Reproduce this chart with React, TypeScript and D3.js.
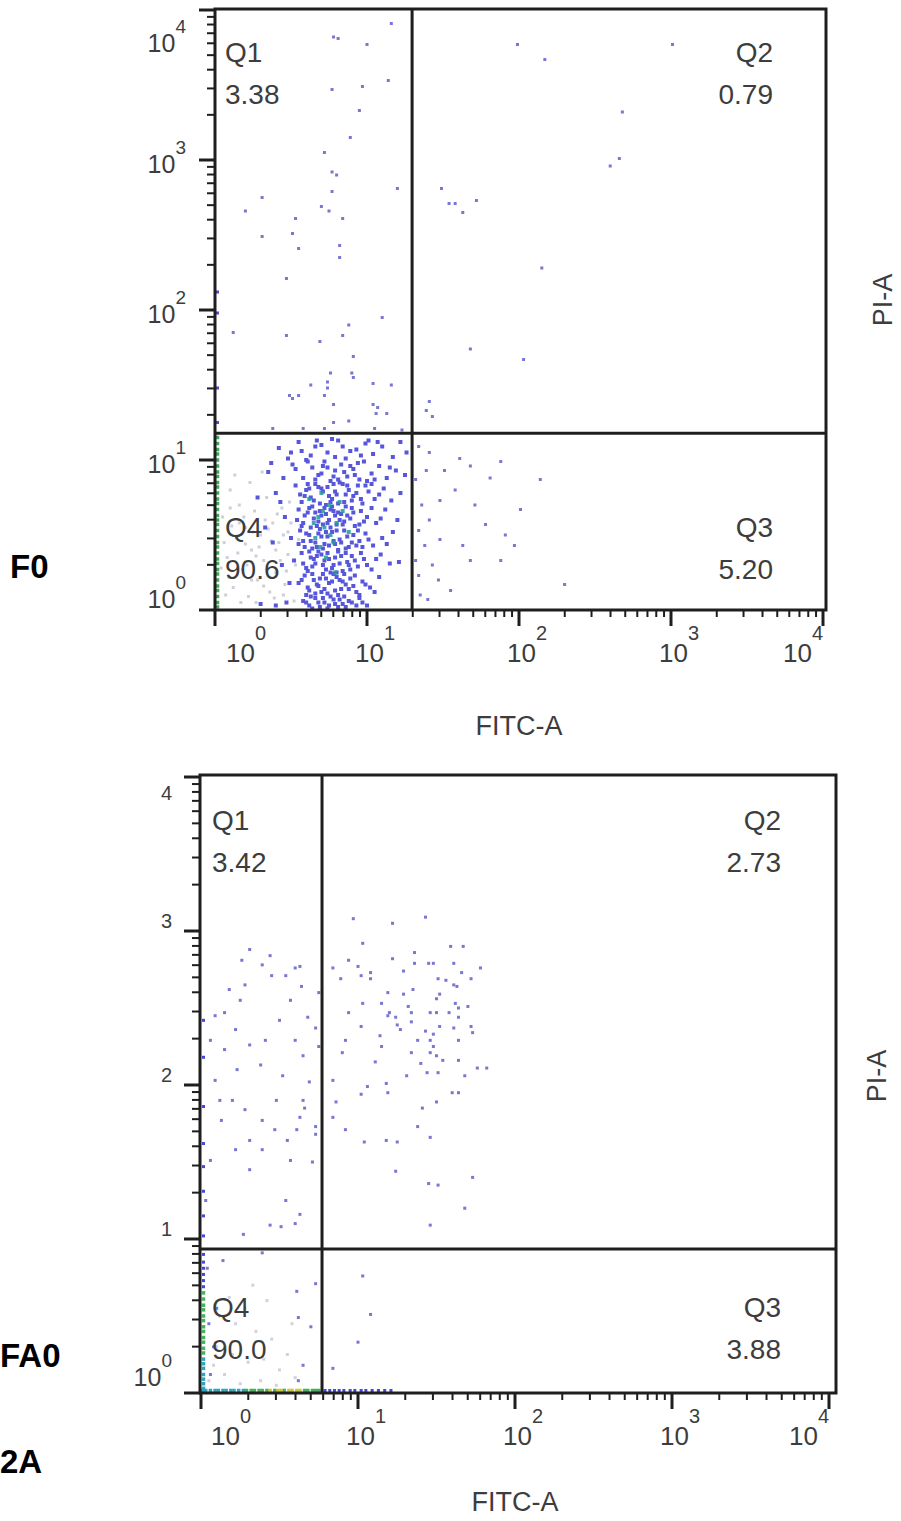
import React from 'react';
import * as d3 from 'd3';

// Each event is [log10 FITC-A, log10 PI-A]
type Ev = [number, number];

const FONT = "'Liberation Sans', Arial, Helvetica, sans-serif";

// ---------------- F0 sample ----------------
const f0GateFitc = 19.8;
const f0GatePi = 15.1;
const f0QuadNames = ['Q1', 'Q2', 'Q3', 'Q4'];
const f0QuadPct = ['3.38', '0.79', '5.20', '90.6'];
const f0YTickText: [string, string][] = [['10', '0'], ['10', '1'], ['10', '2'], ['10', '3'], ['10', '4']];

// scattered events outside the main population
const f0Sparse: Ev[] = [
  [1.16, 3.91], [0.78, 3.82], [0.81, 3.81], [1.0, 3.77], [1.14, 3.53], [0.77, 3.47], [0.97, 3.49],
  [0.95, 3.33], [0.89, 3.15], [0.72, 3.05], [0.77, 2.92], [0.8, 2.9], [0.77, 2.79], [1.2, 2.81],
  [0.31, 2.75], [0.2, 2.66], [0.7, 2.69], [0.75, 2.66], [0.53, 2.61], [0.84, 2.61], [0.31, 2.49],
  [0.51, 2.51], [0.55, 2.41], [0.82, 2.43], [0.82, 2.35], [0.47, 2.21], [1.1, 1.95], [0.88, 1.9],
  [0.12, 1.85], [0.47, 1.83], [0.84, 1.83], [0.69, 1.79], [0.91, 1.69], [0.76, 1.58], [0.9, 1.58],
  [0.91, 1.55], [1.04, 1.51], [1.16, 1.5], [0.63, 1.5], [0.74, 1.52], [0.74, 1.48], [0.49, 1.43],
  [0.51, 1.41], [0.55, 1.43], [0.72, 1.43], [0.78, 1.37], [1.04, 1.37], [1.07, 1.35], [1.06, 1.31],
  [1.13, 1.31], [0.88, 1.26], [0.78, 1.25], [0.38, 1.21], [0.58, 1.21], [0.72, 1.21], [1.05, 1.21],
  [1.23, 1.2],
  // Q2
  [1.99, 3.77], [2.17, 3.67], [3.01, 3.77], [2.68, 3.32], [2.66, 3.01], [2.6, 2.96], [1.49, 2.81],
  [1.54, 2.71], [1.58, 2.71], [1.63, 2.65], [1.72, 2.73], [2.15, 2.28], [1.68, 1.74], [2.03, 1.67],
  [1.41, 1.39], [1.39, 1.33], [1.43, 1.29],
  // Q3
  [1.34, 1.09], [1.41, 1.05], [1.51, 0.93], [1.61, 1.01], [1.68, 0.96], [1.81, 0.88], [1.88, 0.99],
  [1.48, 0.73], [1.58, 0.8], [1.71, 0.7], [2.01, 0.67], [1.91, 0.5], [1.97, 0.43], [1.78, 0.57],
  [1.41, 0.6], [1.38, 0.43], [1.48, 0.47], [1.43, 0.3], [1.55, 0.13], [2.3, 0.17], [1.68, 0.33],
  [1.35, 0.1], [1.32, 0.87], [1.36, 0.7], [1.39, 0.93], [1.34, 0.53], [1.4, 0.07], [1.47, 0.2],
  [1.63, 0.43], [1.32, 0.33], [1.34, 0.23], [1.88, 0.33], [2.14, 0.87],
];

// main live-cell population
const f0Dense: Ev[] = [
  [0.42, 1.08], [0.55, 1.12], [0.63, 1.03], [0.7, 1.1], [0.74, 1.05], [0.81, 1.13], [0.86, 1.01],
  [0.93, 1.07], [0.99, 1.11], [1.04, 1.04], [1.1, 1.09], [1.17, 1.02], [1.22, 1.12], [0.6, 1.0],
  [0.77, 1.14], [0.89, 1.06], [1.01, 1.13], [0.48, 1.01], [0.66, 1.09], [1.26, 1.05],
  [0.35, 0.92], [0.51, 0.97], [0.58, 0.88], [0.64, 0.95], [0.68, 0.9], [0.72, 0.99], [0.76, 0.86],
  [0.79, 0.93], [0.83, 0.97], [0.87, 0.89], [0.91, 0.94], [0.95, 0.87], [0.98, 0.99], [1.03, 0.91],
  [1.08, 0.96], [1.13, 0.88], [1.19, 0.93], [0.61, 0.99], [0.7, 0.91], [0.81, 0.87], [0.89, 0.96],
  [0.94, 0.98], [1.0, 0.86], [1.25, 0.9], [0.45, 0.88], [0.74, 0.95],
  [0.4, 0.78], [0.53, 0.83], [0.57, 0.72], [0.6, 0.8], [0.63, 0.75], [0.66, 0.84], [0.69, 0.71],
  [0.71, 0.79], [0.74, 0.82], [0.77, 0.74], [0.8, 0.77], [0.82, 0.85], [0.85, 0.72], [0.88, 0.8],
  [0.91, 0.76], [0.94, 0.83], [0.97, 0.71], [1.01, 0.79], [1.05, 0.74], [1.11, 0.81], [1.16, 0.73],
  [1.22, 0.78], [0.59, 0.76], [0.68, 0.82], [0.73, 0.7], [0.79, 0.79], [0.84, 0.84], [0.9, 0.73],
  [0.62, 0.81], [0.76, 0.72], [0.86, 0.77], [0.99, 0.83], [0.28, 0.75],
  [0.46, 0.62], [0.55, 0.67], [0.58, 0.58], [0.61, 0.65], [0.64, 0.69], [0.67, 0.56], [0.7, 0.63],
  [0.72, 0.68], [0.75, 0.6], [0.78, 0.66], [0.8, 0.57], [0.83, 0.64], [0.86, 0.69], [0.89, 0.61],
  [0.92, 0.56], [0.96, 0.66], [1.0, 0.62], [1.06, 0.58], [1.12, 0.67], [1.2, 0.6], [0.57, 0.56],
  [0.65, 0.61], [0.69, 0.66], [0.74, 0.58], [0.79, 0.63], [0.85, 0.59], [0.9, 0.68], [0.63, 0.55],
  [0.77, 0.69], [0.82, 0.6], [0.95, 0.57],
  [0.5, 0.48], [0.56, 0.53], [0.59, 0.42], [0.62, 0.5], [0.66, 0.45], [0.69, 0.54], [0.71, 0.41],
  [0.74, 0.49], [0.77, 0.52], [0.79, 0.44], [0.82, 0.47], [0.85, 0.53], [0.88, 0.42], [0.91, 0.5],
  [0.95, 0.46], [0.99, 0.51], [1.04, 0.43], [1.1, 0.48], [1.17, 0.52], [0.58, 0.46], [0.64, 0.41],
  [0.72, 0.44], [0.76, 0.55], [0.81, 0.4], [0.87, 0.49], [0.93, 0.43], [0.68, 0.51], [0.78, 0.46],
  [0.38, 0.45],
  [0.52, 0.33], [0.57, 0.38], [0.6, 0.28], [0.63, 0.35], [0.66, 0.31], [0.7, 0.37], [0.73, 0.27],
  [0.75, 0.34], [0.78, 0.3], [0.81, 0.39], [0.84, 0.26], [0.87, 0.32], [0.9, 0.36], [0.94, 0.29],
  [0.98, 0.34], [1.03, 0.27], [1.09, 0.37], [1.15, 0.31], [0.61, 0.26], [0.68, 0.39], [0.72, 0.33],
  [0.77, 0.28], [0.83, 0.36], [0.88, 0.3], [0.65, 0.34], [0.8, 0.25], [1.21, 0.32],
  [0.55, 0.18], [0.59, 0.23], [0.62, 0.13], [0.65, 0.2], [0.68, 0.16], [0.71, 0.24], [0.74, 0.11],
  [0.77, 0.19], [0.8, 0.22], [0.83, 0.14], [0.86, 0.17], [0.89, 0.21], [0.93, 0.12], [0.97, 0.19],
  [1.02, 0.15], [1.08, 0.22], [0.6, 0.1], [0.67, 0.17], [0.73, 0.21], [0.79, 0.13], [0.85, 0.24],
  [0.91, 0.16], [0.7, 0.12], [0.82, 0.2],
  [0.58, 0.06], [0.62, 0.03], [0.66, 0.08], [0.69, 0.02], [0.72, 0.05], [0.76, 0.09], [0.79, 0.04],
  [0.82, 0.07], [0.86, 0.02], [0.9, 0.05], [0.95, 0.08], [1.0, 0.03], [0.64, 0.01], [0.74, 0.01],
  [0.84, 0.04], [0.3, 0.04], [0.4, 0.03], [0.47, 0.05],
  [0.57, 1.06], [0.67, 1.13], [0.79, 1.02], [0.84, 1.09], [0.96, 1.03], [1.07, 1.12], [0.53, 0.94],
  [0.66, 0.87], [0.71, 0.96], [0.78, 0.89], [0.85, 0.92], [0.92, 0.9], [1.05, 0.87], [1.15, 0.95],
  [0.56, 0.77], [0.61, 0.84], [0.65, 0.73], [0.7, 0.81], [0.75, 0.76], [0.78, 0.84], [0.81, 0.71],
  [0.87, 0.83], [0.93, 0.78], [0.96, 0.74], [1.03, 0.84], [1.08, 0.77],
  [0.54, 0.6], [0.59, 0.63], [0.62, 0.68], [0.66, 0.65], [0.68, 0.59], [0.71, 0.57], [0.73, 0.64],
  [0.76, 0.67], [0.81, 0.65], [0.84, 0.57], [0.87, 0.63], [0.91, 0.65], [0.98, 0.59], [1.03, 0.68],
  [1.09, 0.61],
  [0.55, 0.44], [0.6, 0.51], [0.63, 0.46], [0.67, 0.42], [0.7, 0.49], [0.73, 0.52], [0.75, 0.43],
  [0.8, 0.53], [0.83, 0.45], [0.86, 0.41], [0.9, 0.45], [0.94, 0.53], [0.97, 0.42], [1.01, 0.47],
  [1.13, 0.44],
  [0.58, 0.31], [0.62, 0.39], [0.64, 0.29], [0.67, 0.36], [0.71, 0.3], [0.74, 0.38], [0.76, 0.25],
  [0.79, 0.35], [0.82, 0.31], [0.86, 0.38], [0.89, 0.27], [0.92, 0.33], [0.96, 0.38], [1.0, 0.3],
  [1.06, 0.34],
  [0.57, 0.2], [0.61, 0.15], [0.64, 0.24], [0.66, 0.11], [0.69, 0.21], [0.72, 0.14], [0.75, 0.18],
  [0.78, 0.24], [0.81, 0.1], [0.84, 0.19], [0.88, 0.14], [0.92, 0.23], [0.95, 0.1], [0.99, 0.17],
  [1.05, 0.12],
  [0.6, 0.05], [0.63, 0.09], [0.68, 0.05], [0.71, 0.08], [0.75, 0.03], [0.78, 0.07], [0.81, 0.02],
  [0.85, 0.09], [0.88, 0.06], [0.93, 0.03], [0.97, 0.05],
  [0.33, 0.55], [0.43, 0.72], [0.37, 0.98], [0.5, 1.05], [0.44, 0.3], [0.49, 0.18],
];

// densest events of the population
const f0Core: Ev[] = [
  [0.68, 0.62], [0.72, 0.55], [0.75, 0.7], [0.8, 0.58], [0.66, 0.48], [0.78, 0.45], [0.84, 0.66],
  [0.7, 0.78], [0.62, 0.74], [0.88, 0.52], [0.71, 0.66], [0.76, 0.5], [0.65, 0.58], [0.82, 0.72],
  [0.73, 0.35], [0.79, 0.25], [0.69, 0.42],
];

// low-intensity background events
const f0Haze: Ev[] = [
  [0.05, 0.62], [0.08, 0.35], [0.1, 0.8], [0.12, 0.15], [0.14, 0.48], [0.16, 0.7], [0.18, 0.27],
  [0.2, 0.55], [0.22, 0.09], [0.24, 0.4], [0.26, 0.66], [0.28, 0.2], [0.3, 0.5], [0.32, 0.33],
  [0.34, 0.75], [0.36, 0.12], [0.38, 0.58], [0.4, 0.25], [0.42, 0.45], [0.44, 0.68], [0.46, 0.17],
  [0.48, 0.37], [0.5, 0.58], [0.52, 0.06], [0.06, 0.45], [0.09, 0.22], [0.11, 0.56], [0.15, 0.38],
  [0.19, 0.62], [0.21, 0.3], [0.25, 0.52], [0.27, 0.05], [0.29, 0.42], [0.33, 0.6], [0.35, 0.28],
  [0.37, 0.46], [0.39, 0.08], [0.41, 0.64], [0.43, 0.33], [0.45, 0.5], [0.47, 0.26], [0.49, 0.72],
  [0.13, 0.9], [0.23, 0.85], [0.31, 0.92], [0.17, 0.05], [0.07, 0.1], [0.04, 0.28], [0.27, 0.36],
  [0.35, 0.54], [0.45, 0.1], [0.53, 0.3], [0.55, 0.47], [0.2, 0.44], [0.1, 0.68], [0.16, 0.58],
  [0.24, 0.2], [0.32, 0.16], [0.4, 0.4], [0.48, 0.52],
];

// events piled on the PI-A axis
const f0PileLeft: Ev[] = [
  [0, 0.02], [0, 0.05], [0, 0.09], [0, 0.13], [0, 0.16], [0, 0.2], [0, 0.24], [0, 0.27], [0, 0.31],
  [0, 0.34], [0, 0.38], [0, 0.42], [0, 0.45], [0, 0.49], [0, 0.53], [0, 0.57], [0, 0.6], [0, 0.63],
  [0, 0.67], [0, 0.71], [0, 0.74], [0, 0.78], [0, 0.82], [0, 0.85], [0, 0.89], [0, 0.92], [0, 0.96],
  [0, 1.0], [0, 1.04], [0, 1.07], [0, 1.11], [0, 1.15],
];
const f0PileLeftBlue: Ev[] = [[0, 1.25], [0, 1.48], [0, 1.98], [0, 2.12]];

// ---------------- FA0 sample ----------------
const fa0GateFitc = 5.9;
const fa0GatePi = 8.6;
const fa0QuadNames = ['Q1', 'Q2', 'Q3', 'Q4'];
const fa0QuadPct = ['3.42', '2.73', '3.88', '90.0'];
const fa0YTickText: [string, string][] = [['10', '0'], ['', '1'], ['', '2'], ['', '3'], ['', '4']];

const fa0Sparse: Ev[] = [
  [0.97, 3.08], [1.22, 3.05], [1.43, 3.09], [1.03, 2.92], [1.36, 2.86], [1.59, 2.9], [1.67, 2.9],
  [1.22, 2.82], [0.84, 2.76], [0.94, 2.81], [1.0, 2.77], [1.08, 2.73], [1.08, 2.69], [1.02, 2.71],
  [0.89, 2.69], [1.29, 2.74], [1.36, 2.79], [1.45, 2.79], [1.48, 2.79], [1.61, 2.79], [1.66, 2.73],
  [1.78, 2.76], [1.72, 2.69], [1.51, 2.69], [1.56, 2.68], [1.61, 2.65], [1.63, 2.64], [1.19, 2.6],
  [1.29, 2.59], [1.35, 2.62], [1.5, 2.56], [1.52, 2.59], [1.03, 2.53], [1.15, 2.53], [1.32, 2.51],
  [1.62, 2.53], [1.7, 2.51], [0.94, 2.47], [1.2, 2.47], [1.19, 2.45], [1.24, 2.44], [1.34, 2.47],
  [1.34, 2.41], [1.46, 2.47], [1.5, 2.47], [1.58, 2.47], [1.64, 2.5], [1.64, 2.44], [1.02, 2.38],
  [1.25, 2.39], [1.27, 2.36], [1.52, 2.38], [1.61, 2.37], [1.72, 2.38], [1.73, 2.34], [1.14, 2.32],
  [1.43, 2.35], [1.48, 2.33], [0.92, 2.29], [1.38, 2.29], [1.46, 2.29], [1.64, 2.29], [1.15, 2.25],
  [1.48, 2.25], [1.5, 2.19], [0.9, 2.21], [1.34, 2.21], [1.46, 2.21], [1.54, 2.16], [1.64, 2.16],
  [1.11, 2.15], [1.4, 2.14], [1.44, 2.08], [1.51, 2.08], [1.31, 2.06], [1.68, 2.06], [1.76, 2.11],
  [1.82, 2.11], [0.84, 2.03], [1.06, 1.99], [1.18, 2.01], [1.19, 1.95], [1.02, 1.94], [1.6, 1.95],
  [1.64, 1.95], [0.86, 1.89], [1.5, 1.89], [1.41, 1.85], [0.84, 1.79], [0.92, 1.71], [1.38, 1.73],
  [1.04, 1.63], [1.18, 1.64], [1.25, 1.63], [1.46, 1.66], [1.24, 1.44], [1.73, 1.4], [1.45, 1.36],
  [1.51, 1.35], [1.68, 1.2], [1.46, 1.09],
  [0.63, 2.77], [0.64, 2.64], [0.68, 2.44], [0.73, 2.37], [0.75, 2.25], [0.65, 2.19], [0.69, 2.02],
  [0.65, 1.9], [0.66, 1.85], [0.63, 1.79], [0.73, 1.73], [0.73, 1.68], [0.71, 1.5], [0.75, 2.6],
  [0.31, 2.88], [0.39, 2.78], [0.45, 2.71], [0.28, 2.65], [0.54, 2.71], [0.6, 2.76], [0.18, 2.62],
  [0.25, 2.55], [0.57, 2.55], [0.5, 2.42], [0.22, 2.36], [0.06, 2.29], [0.15, 2.23], [0.31, 2.26],
  [0.41, 2.29], [0.6, 2.29], [0.09, 2.03], [0.23, 2.1], [0.38, 2.13], [0.52, 2.06], [0.12, 1.9],
  [0.28, 1.84], [0.39, 1.77], [0.47, 1.71], [0.55, 1.64], [0.22, 1.58], [0.31, 1.64], [0.06, 1.51],
  [0.57, 1.51], [0.54, 1.25], [0.44, 1.09], [0.63, 1.16], [0.03, 1.25], [0.13, 1.77], [0.2, 1.9],
  [0.39, 1.58], [0.31, 1.45], [0.48, 1.9], [0.61, 1.71], [0.09, 2.45], [0.15, 2.47], [0.26, 2.81],
  [0.44, 2.84], [0.27, 1.03], [0.51, 1.08], [0.6, 1.1],
  // below the PI-A gate
  [0.14, 0.86], [0.04, 0.81], [0.39, 0.91], [0.73, 0.71], [0.61, 0.66], [0.62, 0.49], [0.7, 0.43],
  [0.65, 0.18], [0.62, 0.08], [1.03, 0.76], [1.08, 0.51], [1.0, 0.33], [0.84, 0.16],
  [0.05, 0.45], [0.08, 0.3], [0.06, 0.12], [0.1, 0.55],
];

const fa0Haze: Ev[] = [
  [0.1, 0.3], [0.15, 0.12], [0.22, 0.45], [0.3, 0.2], [0.38, 0.08], [0.45, 0.35], [0.5, 0.15],
  [0.28, 0.55], [0.35, 0.4], [0.18, 0.62], [0.42, 0.6], [0.55, 0.25], [0.08, 0.18], [0.25, 0.06],
  [0.48, 0.05], [0.6, 0.1], [0.12, 0.5], [0.33, 0.7], [0.58, 0.45], [0.05, 0.08], [0.2, 0.25],
  [0.4, 0.22],
];

// events piled on the axes, grouped by pseudocolour density
const fa0PileTeal: Ev[] = [
  [0.01, 0], [0.03, 0], [0.06, 0], [0.09, 0], [0.11, 0], [0.14, 0], [0.16, 0], [0.19, 0], [0.21, 0],
  [0.24, 0], [0.27, 0], [0, 0.03], [0, 0.06], [0, 0.09], [0, 0.12], [0, 0.16], [0, 0.19], [0, 0.22],
];
const fa0PileGreen: Ev[] = [
  [0.29, 0], [0.32, 0], [0.34, 0], [0.37, 0], [0.39, 0], [0.42, 0], [0.47, 0], [0.53, 0], [0.66, 0],
  [0.68, 0], [0.71, 0], [0.73, 0], [0.75, 0], [0, 0.26], [0, 0.29], [0, 0.33], [0, 0.36], [0, 0.4],
  [0, 0.43], [0, 0.47], [0, 0.5], [0, 0.54], [0, 0.57], [0, 0.61], [0, 0.65],
];
const fa0PileYellow: Ev[] = [[0.44, 0], [0.49, 0], [0.51, 0], [0.56, 0], [0.58, 0], [0.61, 0], [0.63, 0]];
const fa0PileBlue: Ev[] = [
  [0.79, 0], [0.82, 0], [0.85, 0], [0.88, 0], [0.91, 0], [0.95, 0], [0.98, 0], [1.02, 0], [1.05, 0],
  [1.09, 0], [1.13, 0], [1.17, 0], [1.21, 0], [0, 0.69], [0, 0.73], [0, 0.77], [0, 0.81], [0, 0.85],
  [0, 0.9], [0, 1.02], [0, 1.15], [0, 1.31], [0, 1.47], [0, 1.62], [0, 1.86], [0, 2.18], [0, 2.42],
];

const xTickExp = ['0', '1', '2', '3', '4'];

interface Group { events: Ev[]; color: string; size: number; opacity: number; pile?: boolean }

interface PanelProps {
  frame: { left: number; right: number; top: number; bottom: number };
  xRange: [number, number];
  yRange: [number, number];
  gate: [number, number];
  names: string[];
  pct: string[];
  qLeftX: number;
  qRightX: number;
  qTopBase: number;
  qBottomBase: number;
  groups: Group[];
  yTickText: [string, string][];
  yLabelPos: (tickY: number, hasBase: boolean) => number;
  yLabelRight: number;
  xTitleBase: number;
  piPos: [number, number];
}

function Panel(p: PanelProps) {
  const { frame } = p;
  const x = d3.scaleLog().domain([1, 1e4]).range(p.xRange);
  const y = d3.scaleLog().domain([1, 1e4]).range(p.yRange);
  const ticks = x.ticks();
  const isMajor = (t: number) => Math.abs(Math.log10(t) - Math.round(Math.log10(t))) < 1e-6;
  const majors = ticks.filter(isMajor);
  const gx = x(p.gate[0]);
  const gy = y(p.gate[1]);
  const lineColor = '#1e1e1e';
  const textColor = '#3d3d3d';

  return (
    <g fontFamily={FONT}>
      {p.groups.map((g, gi) => (
        <g key={gi} fill={g.color} opacity={g.opacity}>
          {g.events.map((e, i) => {
            let cx = x(Math.pow(10, e[0]));
            let cy = y(Math.pow(10, e[1]));
            if (g.pile) {
              if (e[0] === 0) cx += 2.5;
              if (e[1] === 0) cy -= 2.5;
            }
            return <rect key={i} x={cx - g.size / 2} y={cy - g.size / 2} width={g.size} height={g.size} />;
          })}
        </g>
      ))}

      {/* quadrant gate */}
      <line x1={gx} x2={gx} y1={frame.top} y2={frame.bottom} stroke={lineColor} strokeWidth={3} />
      <line x1={frame.left} x2={frame.right} y1={gy} y2={gy} stroke={lineColor} strokeWidth={3} />

      {/* plot frame */}
      <rect x={frame.left} y={frame.top} width={frame.right - frame.left} height={frame.bottom - frame.top}
        fill="none" stroke={lineColor} strokeWidth={3} />

      {/* x axis ticks */}
      {ticks.map((t, i) => {
        const m = isMajor(t);
        return <line key={'xt' + i} x1={x(t)} x2={x(t)} y1={frame.bottom} y2={frame.bottom + (m ? 16 : 7)}
          stroke={lineColor} strokeWidth={m ? 3 : 2} />;
      })}
      {/* y axis ticks */}
      {ticks.map((t, i) => {
        const m = isMajor(t);
        return <line key={'yt' + i} y1={y(t)} y2={y(t)} x1={frame.left} x2={frame.left - (m ? 16 : 8)}
          stroke={lineColor} strokeWidth={m ? 3 : 2} />;
      })}

      {/* x tick labels */}
      {majors.map((t, i) => {
        const start = Math.min(Math.max(x(t) - 12, frame.left + 11), p.xRange[1] - 40);
        return (
          <text key={'xl' + i} x={start} y={frame.bottom + 52} fontSize={26} fill={textColor}>
            10<tspan dy={-22} fontSize={20}>{xTickExp[i]}</tspan>
          </text>
        );
      })}

      {/* y tick labels */}
      {majors.map((t, i) => {
        const [base, sup] = p.yTickText[i];
        const by = p.yLabelPos(y(t), base !== '');
        if (base === '') {
          return <text key={'yl' + i} x={p.yLabelRight} y={by} fontSize={20} textAnchor="end" fill={textColor}>{sup}</text>;
        }
        return (
          <text key={'yl' + i} x={p.yLabelRight} y={by} fontSize={25} textAnchor="end" fill={textColor}>
            {base}<tspan dy={-19} fontSize={19}>{sup}</tspan>
          </text>
        );
      })}

      {/* quadrant names and percentages */}
      <g fontSize={28} fill={textColor}>
        <text x={p.qLeftX} y={p.qTopBase}>{p.names[0]}</text>
        <text x={p.qLeftX} y={p.qTopBase + 42}>{p.pct[0]}</text>
        <text x={p.qRightX} y={p.qTopBase} textAnchor="end">{p.names[1]}</text>
        <text x={p.qRightX} y={p.qTopBase + 42} textAnchor="end">{p.pct[1]}</text>
        <text x={p.qRightX} y={p.qBottomBase} textAnchor="end">{p.names[2]}</text>
        <text x={p.qRightX} y={p.qBottomBase + 42} textAnchor="end">{p.pct[2]}</text>
        <text x={p.qLeftX} y={p.qBottomBase}>{p.names[3]}</text>
        <text x={p.qLeftX} y={p.qBottomBase + 42}>{p.pct[3]}</text>
      </g>

      {/* axis titles */}
      <text x={(p.xRange[0] + p.xRange[1]) / 2} y={p.xTitleBase} fontSize={27} textAnchor="middle" fill={textColor}>FITC-A</text>
      <text transform={`translate(${p.piPos[0]},${p.piPos[1]}) rotate(-90)`} fontSize={27} textAnchor="middle" fill={textColor}>PI-A</text>
    </g>
  );
}

const clamp = (v: number, lo: number, hi: number) => Math.min(Math.max(v, lo), hi);

export default function App() {
  const f0Groups: Group[] = [
    { events: f0Haze, color: '#c4c4d4', size: 3, opacity: 0.8 },
    { events: f0Sparse, color: '#4b4bc4', size: 3, opacity: 0.75 },
    { events: f0Dense, color: '#2828d4', size: 4, opacity: 0.78 },
    { events: f0Core, color: '#1f9d9a', size: 4, opacity: 0.85 },
    { events: f0PileLeft, color: '#2e9e48', size: 3.5, opacity: 0.9, pile: true },
    { events: f0PileLeftBlue, color: '#3a3ad0', size: 3, opacity: 0.9, pile: true },
  ];
  const fa0Groups: Group[] = [
    { events: fa0Haze, color: '#c8c8d6', size: 3, opacity: 0.8 },
    { events: fa0Sparse, color: '#4b4bc4', size: 3, opacity: 0.75 },
    { events: fa0PileTeal, color: '#1d9ab4', size: 3.5, opacity: 0.9, pile: true },
    { events: fa0PileGreen, color: '#35a84c', size: 3.5, opacity: 0.9, pile: true },
    { events: fa0PileYellow, color: '#c8c22a', size: 3.5, opacity: 0.9, pile: true },
    { events: fa0PileBlue, color: '#3434cc', size: 3, opacity: 0.9, pile: true },
  ];

  return (
    <svg width={901} height={1521} viewBox="0 0 901 1521"
      style={{ position: 'absolute', left: 0, top: 0, background: '#fff', display: 'block' }}>
      <rect width={901} height={1521} fill="#fff" />

      <Panel
        frame={{ left: 215, right: 826, top: 9, bottom: 610 }}
        xRange={[215, 823]}
        yRange={[610, 10]}
        gate={[f0GateFitc, f0GatePi]}
        names={f0QuadNames}
        pct={f0QuadPct}
        qLeftX={225}
        qRightX={773}
        qTopBase={62}
        qBottomBase={537}
        groups={f0Groups}
        yTickText={f0YTickText}
        yLabelPos={(ty) => clamp(ty + 13, 52, 608)}
        yLabelRight={186}
        xTitleBase={735}
        piPos={[892, 300]}
      />

      <Panel
        frame={{ left: 200, right: 836, top: 775, bottom: 1393 }}
        xRange={[201, 829]}
        yRange={[1393, 777]}
        gate={[fa0GateFitc, fa0GatePi]}
        names={fa0QuadNames}
        pct={fa0QuadPct}
        qLeftX={212}
        qRightX={781}
        qTopBase={830}
        qBottomBase={1317}
        groups={fa0Groups}
        yTickText={fa0YTickText}
        yLabelPos={(ty, hasBase) => (hasBase ? ty - 7 : clamp(ty - 3, 800, 1400))}
        yLabelRight={172}
        xTitleBase={1511}
        piPos={[886, 1076]}
      />

      {/* sample labels */}
      <g fontFamily={FONT} fontWeight="bold" fontSize={33} fill="#000">
        <text x={10} y={578}>F0</text>
        <text x={0} y={1367}>FA0</text>
        <text x={0} y={1473}>2A</text>
      </g>
    </svg>
  );
}
